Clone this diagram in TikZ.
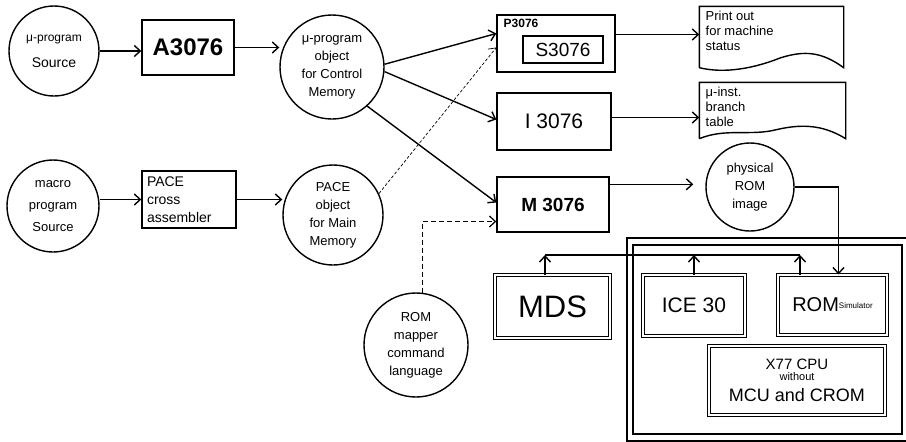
\documentclass[tikz,border=0pt]{standalone}
\usepackage{fontspec}
\setmainfont{Liberation Sans}
\usetikzlibrary{arrows.meta}
\begin{document}
\begin{tikzpicture}[x=1pt,y=-1pt, line width=1.4pt,
  >={Straight Barb[length=6pt,width=11pt]},
  circ/.style={draw, circle, inner sep=0pt, align=center, font=\fontsize{13}{18}\selectfont},
  box/.style={draw, rectangle, inner sep=0pt},
  dbox/.style={draw, rectangle, double, double distance=1.6pt, line width=1pt, inner sep=0pt},
  docarea/.style={inner sep=0pt},
  doctext/.style={anchor=north west, align=left, inner sep=0pt, font=\fontsize{13}{15}\selectfont},
  faint/.style={line width=0.7pt, dash pattern=on 3pt off 2pt},
  dashline/.style={line width=1.2pt, dash pattern=on 5pt off 3pt}
]
\useasboundingbox[fill=white] (0,0) rectangle (906,442);

% left column
\node[circ, minimum size=90pt] (src1) at (54,51) {\fontsize{12}{13}\selectfont μ-program\\[8pt]\fontsize{14}{15}\selectfont Source};
\node[box, minimum width=92pt, minimum height=55pt, font=\bfseries\fontsize{24}{24}\selectfont] (A) at (188,47.5) {A3076};
\node[circ, minimum size=104pt] (obj1) at (332,67) {μ-program\\object\\for Control\\Memory};

\node[circ, minimum size=92pt, font=\fontsize{13}{22}\selectfont] (src2) at (53,206) {macro\\program\\Source};
\node[box, minimum width=94pt, minimum height=57pt, text width=84pt, align=left, font=\fontsize{14}{18}\selectfont] (PACE) at (189,199.5) {PACE\\cross\\assembler};
\node[circ, minimum size=100pt] (obj2) at (333,215) {PACE\\object\\for Main\\Memory};

% middle column
\node[box, minimum width=118pt, minimum height=57pt] (P) at (556,43.5) {};
\node[anchor=north west, inner sep=0pt, font=\bfseries\fontsize{12}{12}\selectfont] (Plab) at (503,18) {P3076};
\node[box, line width=1.2pt, minimum width=80pt, minimum height=27pt, font=\fontsize{19}{19}\selectfont] (S) at (563,49.5) {S3076};
\node[box, minimum width=114pt, minimum height=57pt, font=\fontsize{21}{21}\selectfont] (I) at (554,121.5) {I 3076};
\node[box, minimum width=112pt, minimum height=55pt, font=\bfseries\fontsize{19}{19}\selectfont] (M) at (553,204.5) {M 3076};

% documents
\node[docarea, minimum width=143pt, minimum height=60pt] (d1) at (771.5,37) {};
\draw (d1.south west) -- (d1.north west) -- (d1.north east) -- (d1.south east)
  .. controls (822,52) and (805,50) .. (780,58) .. controls (755,68) and (725,74) .. (d1.south west);
\node[doctext] (d1t) at (705,10) {Print out\\for machine\\status};

\node[docarea, minimum width=145pt, minimum height=55pt] (d2) at (772.5,110.5) {};
\draw (d2.south west) -- (d2.north west) -- (d2.north east) -- (d2.south east)
  .. controls (822,124) and (800,124) .. (775,130) .. controls (750,136) and (725,128) .. (d2.south west);
\node[doctext] (d2t) at (705,86) {μ-inst.\\branch\\table};

\node[circ, minimum size=88pt] (phys) at (750,187) {physical\\ROM\\image};
\node[circ, minimum size=104pt] (rommap) at (416,345) {ROM\\mapper\\command\\language};

% hardware
\draw (627,238) rectangle (910,441);
\draw (633,245) rectangle (902,434);
\node[dbox, minimum width=115pt, minimum height=63pt, font=\fontsize{31}{31}\selectfont] (MDS) at (552.5,306.5) {MDS};
\node[dbox, minimum width=102pt, minimum height=61pt, font=\fontsize{21}{21}\selectfont] (ICE) at (694,305.5) {ICE 30};
\node[dbox, minimum width=109pt, minimum height=60pt] (ROMS) at (832.5,305) {\fontsize{20}{20}\selectfont ROM\raisebox{3pt}{\fontsize{8}{8}\selectfont Simulator}};
\node[dbox, minimum width=176pt, minimum height=69pt, align=center] (X77) at (797,380.5)
  {\fontsize{15}{15}\selectfont X77 CPU\\[-1pt]\fontsize{11}{11}\selectfont without\\[7pt]\fontsize{18}{18}\selectfont MCU and CROM};

% connectors
\draw[->] (src1) -- (src1 -| A.west);
\draw[->] (A.east) -- (A.east -| obj1.west);
\draw[->] (PACE.west -| src2.east) -- (PACE.west);
\draw[->] (PACE.east) -- (PACE.east -| obj2.west);
\draw[->] (obj1.3) -- ([yshift=10pt]P.west);
\draw[->] (obj1.-5) -- ([yshift=2pt]I.west);
\draw[->] (obj1.-48) -- ([yshift=2pt]M.west);
\draw[->, faint] (obj2.25) -- ([yshift=-4pt]P.west);
\draw[->] ([yshift=9pt]P.east) -- ([yshift=9pt]P.east -| d1.west);
\draw[->] ([yshift=4pt]I.east) -- ([yshift=4pt]I.east -| d2.west);
\draw[->, shorten >=12pt] ([yshift=-8pt]M.north east) -- ([yshift=-8pt]M.north east -| phys.west);
\draw[->] (phys.east) -| ([xshift=6pt]ROMS.north);
\draw[->, dashline] (rommap.83) |- ([yshift=-17pt]M.west);

\coordinate (busL) at (545,255);
\coordinate (busR) at (800,255);
\draw (busL) -- (busR);
\draw[->] (MDS.north -| busL) -- (busL);
\draw[->] (ICE.north) -- (ICE.north |- busL);
\draw[->] (ROMS.north -| busR) -- (busR);
\end{tikzpicture}
\end{document}
